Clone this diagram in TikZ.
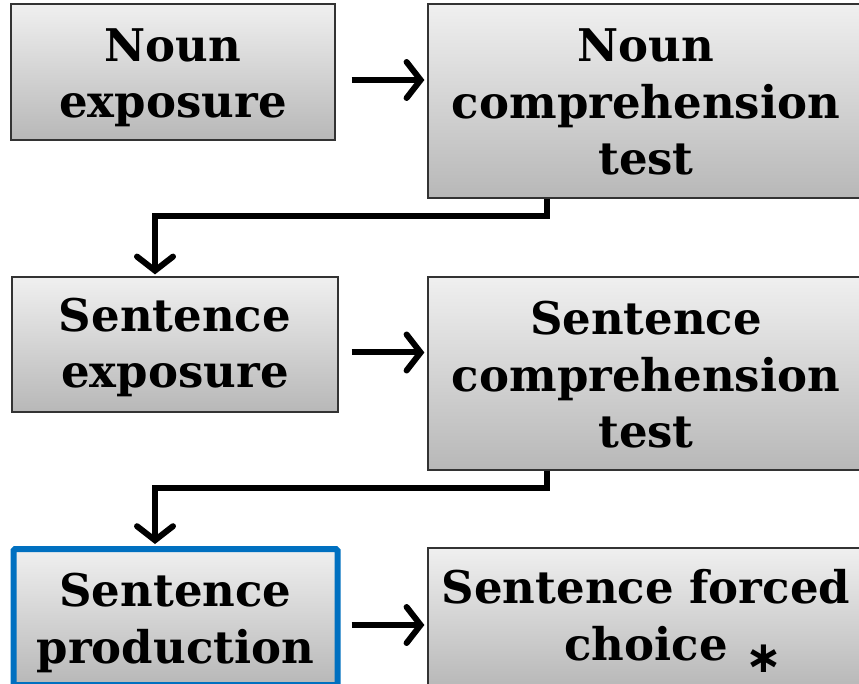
\documentclass[tikz,border=0pt]{standalone}
\usepackage{fontspec}
\setmainfont{DejaVu Serif}
\newfontfamily\symfont{DejaVu Sans}
\usetikzlibrary{arrows.meta}
\begin{document}
\begin{tikzpicture}[x=1pt, y=-1pt]
        \tikzset{
            stepbox/.style={
                draw=black!80,
                line width=1.2pt,
                top color=black!6,
                bottom color=black!28,
                align=center,
                inner sep=0pt,
                text depth=0pt,
                font=\fontsize{45}{56.5}\selectfont\bfseries
            },
            focusbox/.style={stepbox, draw={rgb,255:red,0;green,112;blue,192}, line width=6pt, rounded corners=1.5pt},
            flow/.style={line width=6pt, -{Straight Barb[length=14pt, width=36pt, line cap=round]}},
        }

        \clip (0,0) rectangle (859,684);

        \node[stepbox, minimum width=324, minimum height=136, text height=92pt] (nounexp) at (173,72) {Noun\\exposure};
        \node[stepbox, minimum width=436, minimum height=194, text height=148pt] (nouncomp) at (646,101) {Noun\\comprehension\\test};
        \node[stepbox, minimum width=326, minimum height=135, text height=87pt] (sentexp) at (175,344.5) {Sentence\\exposure};
        \node[stepbox, minimum width=436, minimum height=193, text height=148pt] (sentcomp) at (646,373.5) {Sentence\\comprehension\\test};
        \node[focusbox, minimum width=324, minimum height=136, text height=92pt] (sentprod) at (175.5,617) {Sentence\\production};
        \node[stepbox, minimum width=436, minimum height=140, text height=84pt] (sentchoice) at (646,618) {Sentence forced\\choice};
        \node[font=\fontsize{44}{44}\selectfont\symfont\bfseries, anchor=base, inner sep=0pt] (star) at (764,672) {∗};

        \coordinate (bendA) at (155,216);
        \coordinate (bendB) at (155,488);

        \draw[flow] ([shift={(16,8)}]nounexp.east) -- ([shift={(-3,-21)}]nouncomp.west);
        \draw[flow] ([shift={(13,8)}]sentexp.east) -- ([shift={(-3,-21)}]sentcomp.west);
        \draw[flow] ([shift={(11,8)}]sentprod.east) -- ([shift={(-3,7)}]sentchoice.west);

        \draw[flow] ([xshift=-99pt]nouncomp.south) |- (bendA) -- ([yshift=2pt]bendA |- sentexp.north);
        \draw[flow] ([xshift=-99pt]sentcomp.south) |- (bendB) -- ([yshift=2pt]bendB |- sentprod.north);
    \end{tikzpicture}
\end{document}
